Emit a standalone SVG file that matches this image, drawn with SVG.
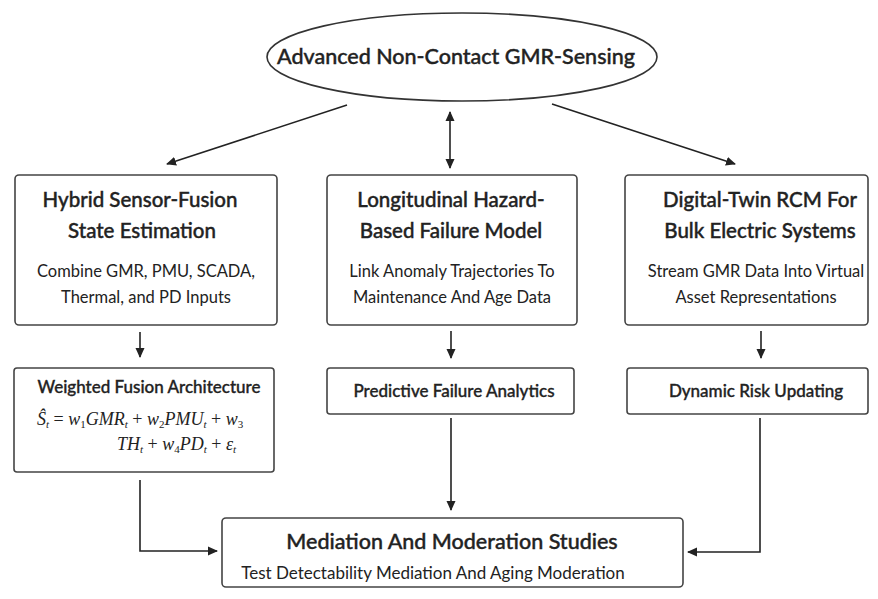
<svg xmlns="http://www.w3.org/2000/svg" width="878" height="599" viewBox="0 0 878 599">
<defs>
<marker id="ah" viewBox="0 0 10 10" refX="9" refY="5" markerWidth="10" markerHeight="10" markerUnits="userSpaceOnUse" orient="auto-start-reverse">
<path d="M0,0.5 L10,5 L0,9.5 z" fill="#222"/>
</marker>
<style>
.box{fill:#fff;stroke:#444;stroke-width:1.6}
.ttl{font-family:Lato,"Open Sans","DejaVu Sans",sans-serif;font-size:20.5px;font-weight:500;fill:#222;stroke:#222;stroke-width:0.4;text-anchor:middle}
.sub{font-family:Lato,"Open Sans","DejaVu Sans",sans-serif;font-size:16.5px;fill:#222;text-anchor:middle}
.lbl{font-family:Lato,"Open Sans","DejaVu Sans",sans-serif;font-size:17px;font-weight:500;fill:#222;stroke:#222;stroke-width:0.35;text-anchor:middle}
.eq{font-family:"Liberation Serif","DejaVu Serif",serif;font-size:18px;font-style:italic;fill:#222}
.con{fill:none;stroke:#222;stroke-width:1.6}
</style>
</defs>
<rect width="878" height="599" fill="#fff"/>

<g id="connectors">
<line class="con" x1="347" y1="105" x2="167" y2="164" marker-end="url(#ah)"/>
<line class="con" x1="450" y1="112" x2="450" y2="168" marker-start="url(#ah)" marker-end="url(#ah)"/>
<line class="con" x1="552" y1="104" x2="735" y2="164" marker-end="url(#ah)"/>
<line class="con" x1="140" y1="332" x2="140" y2="357" marker-end="url(#ah)"/>
<line class="con" x1="451" y1="331" x2="451" y2="358" marker-end="url(#ah)"/>
<line class="con" x1="761" y1="331" x2="761" y2="358" marker-end="url(#ah)"/>
<polyline class="con" points="140,480 140,551 217,551" marker-end="url(#ah)"/>
<line class="con" x1="451" y1="418" x2="451" y2="510" marker-end="url(#ah)"/>
<polyline class="con" points="760,418 760,552 688,552" marker-end="url(#ah)"/>
</g>

<g id="gmr-sensing">
<ellipse cx="462" cy="57" rx="195" ry="44" fill="#fff" stroke="#333" stroke-width="1.6"/>
<text class="ttl" x="456" y="64" style="font-size:21.5px">Advanced Non-Contact GMR-Sensing</text>
</g>

<g id="hybrid-fusion">
<rect class="box" x="15" y="175" width="262" height="150" rx="4"/>
<text class="ttl" x="140" y="207">Hybrid Sensor-Fusion</text>
<text class="ttl" x="142" y="238">State Estimation</text>
<text class="sub" x="146" y="277">Combine GMR, PMU, SCADA,</text>
<text class="sub" x="146" y="303">Thermal, and PD Inputs</text>
</g>

<g id="hazard-model">
<rect class="box" x="327" y="175" width="250" height="150" rx="4"/>
<text class="ttl" x="451" y="207">Longitudinal Hazard-</text>
<text class="ttl" x="451" y="238">Based Failure Model</text>
<text class="sub" x="452" y="277">Link Anomaly Trajectories To</text>
<text class="sub" x="452" y="303">Maintenance And Age Data</text>
</g>

<g id="digital-twin">
<rect class="box" x="625" y="175" width="243" height="150" rx="4"/>
<text class="ttl" x="760" y="207">Digital-Twin RCM For</text>
<text class="ttl" x="760" y="238">Bulk Electric Systems</text>
<text class="sub" x="756" y="277">Stream GMR Data Into Virtual</text>
<text class="sub" x="756" y="303">Asset Representations</text>
</g>

<g id="weighted-fusion">
<rect class="box" x="14" y="368" width="260" height="104" rx="3"/>
<text class="lbl" x="149" y="393">Weighted Fusion Architecture</text>
<text class="eq" x="37" y="425">Ŝ<tspan font-size="11" dy="3">t</tspan><tspan dy="-3" font-style="normal"> = </tspan>w<tspan font-size="11" dy="3" font-style="normal">1</tspan><tspan dy="-3">GMR</tspan><tspan font-size="11" dy="3">t</tspan><tspan dy="-3" font-style="normal"> + </tspan>w<tspan font-size="11" dy="3" font-style="normal">2</tspan><tspan dy="-3">PMU</tspan><tspan font-size="11" dy="3">t</tspan><tspan dy="-3" font-style="normal"> + </tspan>w<tspan font-size="11" dy="3" font-style="normal">3</tspan></text>
<text class="eq" x="117" y="450">TH<tspan font-size="11" dy="3">t</tspan><tspan dy="-3" font-style="normal"> + </tspan>w<tspan font-size="11" dy="3" font-style="normal">4</tspan><tspan dy="-3">PD</tspan><tspan font-size="11" dy="3">t</tspan><tspan dy="-3" font-style="normal"> + </tspan>ε<tspan font-size="11" dy="3">t</tspan></text>
</g>

<g id="predictive-analytics">
<rect class="box" x="327" y="368" width="247" height="46" rx="3"/>
<text class="lbl" x="454" y="397">Predictive Failure Analytics</text>
</g>

<g id="dynamic-risk">
<rect class="box" x="627" y="368" width="241" height="46" rx="3"/>
<text class="lbl" x="756" y="397">Dynamic Risk Updating</text>
</g>

<g id="mediation">
<rect class="box" x="222" y="518" width="461" height="69" rx="4"/>
<text class="ttl" x="452" y="549" style="font-size:21.5px">Mediation And Moderation Studies</text>
<text class="sub" x="433" y="579" style="font-size:17px">Test Detectability Mediation And Aging Moderation</text>
</g>
</svg>
